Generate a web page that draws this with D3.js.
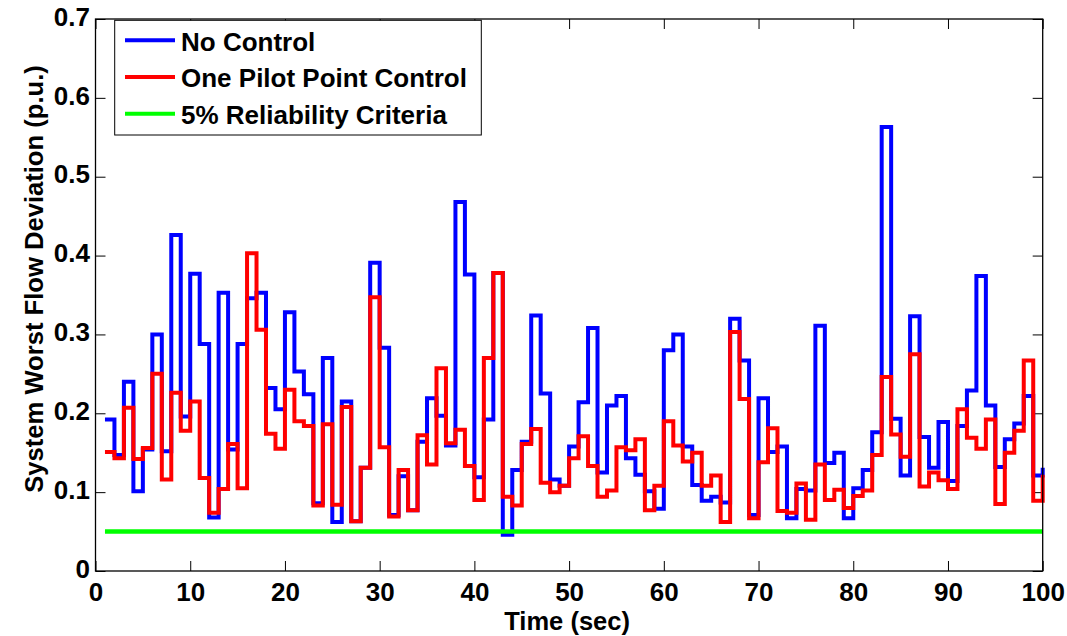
<!DOCTYPE html>
<html>
<head>
<meta charset="utf-8">
<script src="https://cdn.jsdelivr.net/npm/d3@7"></script>
<style>
  body { margin: 0; background: #fff; }
  text { font-family: "Liberation Sans", Arial, sans-serif; font-weight: bold; fill: #000; }
</style>
</head>
<body>
<div id="chart"></div>
<script>
// step start times (sec)
const time = [1,2,3,4,5,6,7,8,9,10,11,12,13,14,15,16,17,18,19,20,
  21,22,23,24,25,26,27,28,29,30,31,32,33,34,35,36,37,38,39,40,
  41,42,43,44,45,46,47,48,49,50,51,52,53,54,55,56,57,58,59,60,
  61,62,63,64,65,66,67,68,69,70,71,72,73,74,75,76,77,78,79,80,
  81,82,83,84,85,86,87,88,89,90,91,92,93,94,95,96,97,98,99,100];

const noControl = [0.192,0.147,0.240,0.101,0.154,0.300,0.152,0.426,0.196,0.377,
  0.288,0.068,0.353,0.154,0.288,0.346,0.353,0.232,0.205,0.328,
  0.253,0.224,0.086,0.270,0.062,0.215,0.063,0.131,0.391,0.283,
  0.071,0.120,0.077,0.164,0.219,0.197,0.159,0.468,0.376,0.119,
  0.192,0.378,0.046,0.128,0.164,0.324,0.225,0.116,0.108,0.158,
  0.214,0.308,0.125,0.210,0.222,0.143,0.122,0.101,0.079,0.280,
  0.300,0.158,0.109,0.089,0.094,0.087,0.320,0.267,0.071,0.219,
  0.151,0.158,0.067,0.104,0.102,0.311,0.137,0.150,0.067,0.105,
  0.128,0.176,0.563,0.193,0.121,0.323,0.170,0.131,0.189,0.114,
  0.184,0.229,0.374,0.210,0.132,0.167,0.187,0.222,0.121,0.131];

const pilotControl = [0.151,0.143,0.207,0.142,0.156,0.250,0.116,0.226,0.178,0.215,
  0.118,0.074,0.104,0.161,0.105,0.403,0.306,0.174,0.155,0.230,
  0.190,0.184,0.083,0.186,0.084,0.208,0.063,0.131,0.347,0.157,
  0.069,0.128,0.077,0.172,0.135,0.257,0.162,0.179,0.133,0.090,
  0.270,0.378,0.094,0.083,0.161,0.180,0.112,0.100,0.108,0.143,
  0.171,0.133,0.094,0.102,0.157,0.153,0.167,0.077,0.108,0.190,
  0.159,0.139,0.150,0.108,0.121,0.062,0.303,0.218,0.067,0.138,
  0.181,0.076,0.074,0.111,0.065,0.135,0.090,0.103,0.080,0.095,
  0.102,0.147,0.246,0.173,0.145,0.275,0.107,0.125,0.115,0.104,
  0.205,0.169,0.155,0.192,0.085,0.150,0.178,0.267,0.089,0.122];

const criteria = 0.05;
const criteriaSpan = [1, 100];

const xTicks = [0,10,20,30,40,50,60,70,80,90,100];
const yTicks = [0,0.1,0.2,0.3,0.4,0.5,0.6,0.7];

const legendLabels = ["No Control", "One Pilot Point Control", "5% Reliability Criteria"];
const legendColors = ["#0000ff", "#ff0000", "#00ff00"];

const width = 1067, height = 636;
const plot = {left: 95.5, right: 1042.7, top: 19, bottom: 571};

const svg = d3.select("#chart")
  .append("svg")
  .attr("width", width)
  .attr("height", height);

const x = d3.scaleLinear().domain([0, 100]).range([plot.left, plot.right]);
const y = d3.scaleLinear().domain([0, 0.7]).range([plot.bottom, plot.top]);

// axes: ticks point inward on all four sides (box on)
svg.append("g")
  .attr("transform", `translate(0,${plot.bottom})`)
  .call(d3.axisBottom(x).tickValues(xTicks).tickSizeInner(-10).tickSizeOuter(0).tickPadding(11.5))
  .call(g => g.select(".domain").remove())
  .call(g => g.selectAll("text").style("font-size", "26px"));

svg.append("g")
  .attr("transform", `translate(${plot.left},0)`)
  .call(d3.axisLeft(y).tickValues(yTicks).tickFormat(d => String(d)).tickSizeInner(-10).tickSizeOuter(0).tickPadding(5.5))
  .call(g => g.select(".domain").remove())
  .call(g => g.selectAll("text").style("font-size", "26px").attr("dy", "0.24em"));

svg.append("g")
  .attr("transform", `translate(0,${plot.top})`)
  .call(d3.axisTop(x).tickValues(xTicks).tickFormat("").tickSizeInner(-10).tickSizeOuter(0))
  .call(g => g.select(".domain").remove());

svg.append("g")
  .attr("transform", `translate(${plot.right},0)`)
  .call(d3.axisRight(y).tickValues(yTicks).tickFormat("").tickSizeInner(-10).tickSizeOuter(0))
  .call(g => g.select(".domain").remove());

svg.selectAll(".tick line").attr("stroke", "#000").attr("stroke-width", 1);

// data lines (stairs)
const stairs = d3.line()
  .x(d => x(d[0]))
  .y(d => y(d[1]))
  .curve(d3.curveStepAfter);

svg.append("path")
  .datum(d3.zip(time, noControl))
  .attr("fill", "none")
  .attr("stroke", legendColors[0])
  .attr("stroke-width", 4)
  .attr("d", stairs);

svg.append("path")
  .datum(d3.zip(time, pilotControl))
  .attr("fill", "none")
  .attr("stroke", legendColors[1])
  .attr("stroke-width", 4)
  .attr("d", stairs);

svg.append("path")
  .datum(criteriaSpan.map(t => [t, criteria]))
  .attr("fill", "none")
  .attr("stroke", legendColors[2])
  .attr("stroke-width", 4.5)
  .attr("d", d3.line().x(d => x(d[0])).y(d => y(d[1])));

// plot box
svg.append("rect")
  .attr("x", plot.left)
  .attr("y", plot.top)
  .attr("width", plot.right - plot.left)
  .attr("height", plot.bottom - plot.top)
  .attr("fill", "none")
  .attr("stroke", "#000")
  .attr("stroke-width", 1.3);

// axis titles
svg.append("text")
  .attr("x", (plot.left + plot.right) / 2 - 2)
  .attr("y", 629.5)
  .attr("text-anchor", "middle")
  .style("font-size", "25.5px")
  .text("Time (sec)");

svg.append("text")
  .attr("transform", "translate(43,279) rotate(-90)")
  .attr("text-anchor", "middle")
  .style("font-size", "25.6px")
  .text("System Worst Flow Deviation (p.u.)");

// legend
const legend = svg.append("g").attr("class", "legend");

legend.append("rect")
  .attr("x", 114.7)
  .attr("y", 20.3)
  .attr("width", 366.6)
  .attr("height", 114.7)
  .attr("fill", "#fff")
  .attr("stroke", "#000")
  .attr("stroke-width", 1);

const items = legend.selectAll(".legend-item")
  .data(legendLabels)
  .join("g")
  .attr("class", "legend-item")
  .attr("transform", (d, i) => `translate(0,${40.3 + i * 36.7})`);

items.append("line")
  .attr("x1", 125)
  .attr("x2", 175)
  .attr("stroke", (d, i) => legendColors[i])
  .attr("stroke-width", 4);

items.append("text")
  .attr("x", 181)
  .attr("y", 10.4)
  .style("font-size", "26px")
  .text(d => d);
</script>
</body>
</html>
